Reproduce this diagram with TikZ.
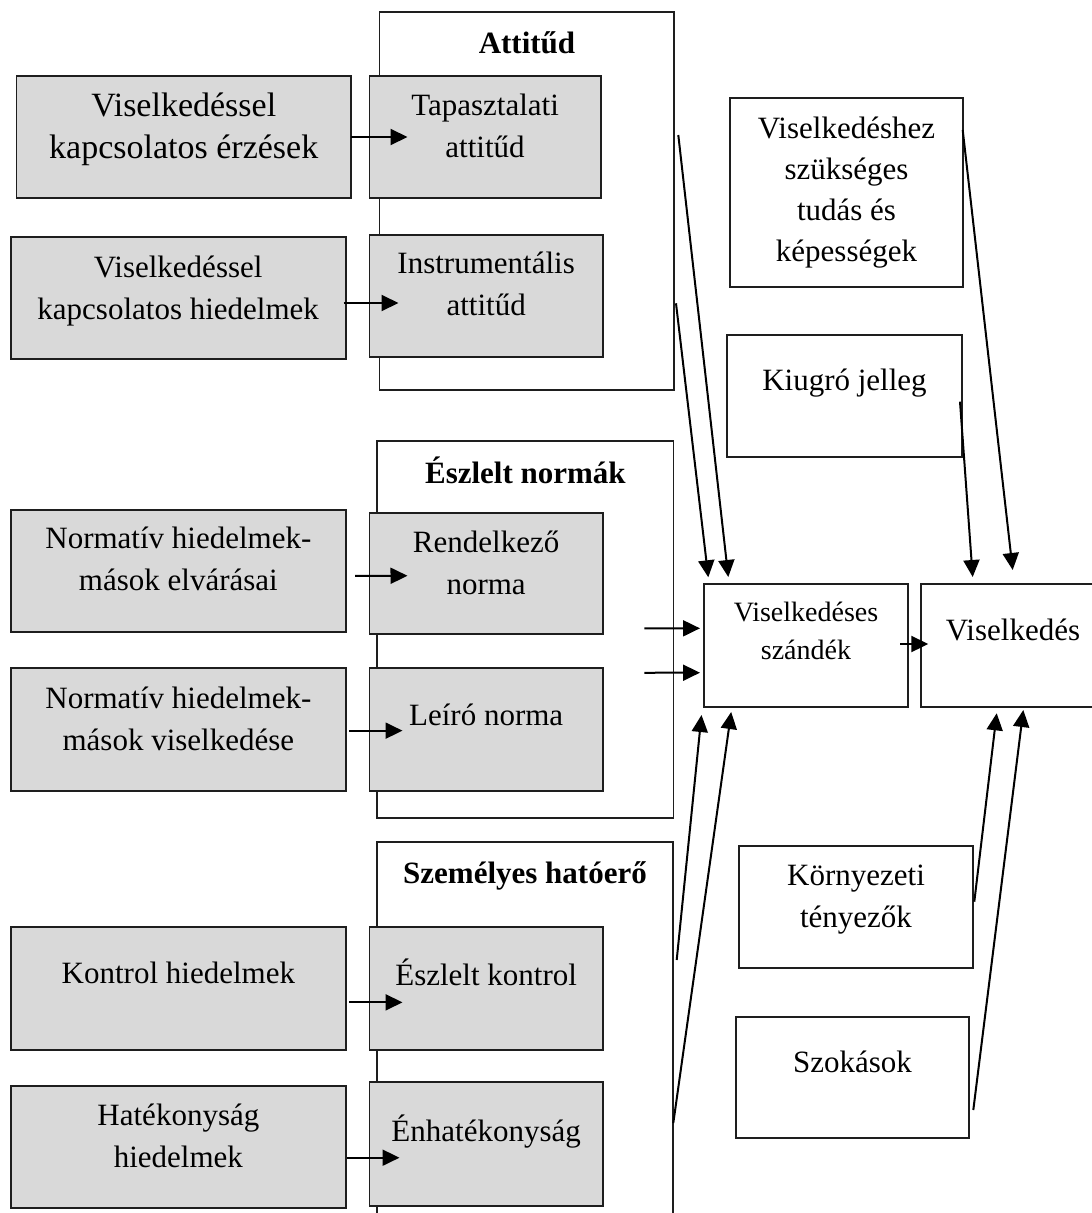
\documentclass[tikz,border=0pt]{standalone}
\usepackage{fontspec}
\setmainfont{Liberation Serif}
\usetikzlibrary{arrows.meta,calc}
\definecolor{boxgray}{RGB}{217,217,217}
\definecolor{edge}{RGB}{30,30,30}
\tikzset{
  frame/.style={draw=edge, line width=1.8pt, inner sep=0pt, outer sep=0pt, anchor=north west},
  shaded/.style={frame, fill=boxgray},
  plain/.style={frame, fill=white},
  txt/.style={font=\fontsize{31}{42}\selectfont, align=center, inner sep=0pt},
  big/.style={font=\fontsize{34}{42}\selectfont, align=center, inner sep=0pt},
  ttl/.style={font=\fontsize{31}{42}\selectfont\bfseries, align=center, inner sep=0pt},
  small/.style={font=\fontsize{28}{38}\selectfont, align=center, inner sep=0pt},
  tight/.style={font=\fontsize{31}{41}\selectfont, align=center, inner sep=0pt},
  arr/.style={line width=2pt, -{Triangle[length=17pt,width=16pt]}},
}
\begin{document}
\begin{tikzpicture}[x=1pt,y=-1pt]
\useasboundingbox[fill=white] (0,0) rectangle (1092,1213);

% group frames
\node[frame, minimum width=294.9pt, minimum height=378.3pt] (att) at (379.4,11.7) {};
\node[frame, minimum width=296.2pt, minimum height=377.3pt] (norm) at (377.3,440.7) {};
\node[frame, minimum width=296pt, minimum height=398.3pt] (hat) at (377,841.7) {};

% grey boxes: beliefs (left) and components (right)
\node[shaded, minimum width=334.5pt, minimum height=122pt] (g1) at (16.5,76) {};
\node[shaded, minimum width=231.1pt, minimum height=122pt] (tap) at (369.5,76) {};
\node[shaded, minimum width=334.8pt, minimum height=122pt] (g2) at (10.8,237) {};
\node[shaded, minimum width=233.3pt, minimum height=122pt] (ins) at (369.5,235) {};
\node[shaded, minimum width=335.2pt, minimum height=122.3pt] (g3) at (10.8,510) {};
\node[shaded, minimum width=233.3pt, minimum height=121.3pt] (ren) at (369.5,512.7) {};
\node[shaded, minimum width=335.2pt, minimum height=123.3pt] (g4) at (10.8,667.7) {};
\node[shaded, minimum width=233.3pt, minimum height=123.3pt] (lei) at (369.5,667.7) {};
\node[shaded, minimum width=335.2pt, minimum height=123.3pt] (g5) at (10.8,926.7) {};
\node[shaded, minimum width=233.3pt, minimum height=123.3pt] (ek) at (369.5,926.7) {};
\node[shaded, minimum width=335.2pt, minimum height=122pt] (g6) at (10.8,1085.7) {};
\node[shaded, minimum width=233.3pt, minimum height=124pt] (en) at (369.5,1081.7) {};

% white boxes on the right
\node[plain, minimum width=233pt, minimum height=189pt] (tud) at (730,98) {};
\node[plain, minimum width=235pt, minimum height=122pt] (kiu) at (727,335) {};
\node[plain, minimum width=204pt, minimum height=123pt] (sz) at (704,584) {};
\node[plain, minimum width=184pt, minimum height=123pt] (vis) at (921,584) {};
\node[plain, minimum width=234pt, minimum height=122pt] (kor) at (739,846) {};
\node[plain, minimum width=233pt, minimum height=121pt] (szo) at (736,1017) {};

% titles
\node[ttl] (attT) at (527,44.6) {\strut Attitűd};
\node[ttl] (normT) at (525.4,474.6) {\strut Észlelt normák};
\node[ttl] (hatT) at (525,874.6) {\strut Személyes hatóerő};

% labels
\node[big] (g1T) at (183.75,128.6) {\strut Viselkedéssel\\\strut kapcsolatos érzések};
\node[txt] (tapT) at (485.05,127.6) {\strut Tapasztalati\\\strut attitűd};
\node[txt] (g2T) at (178.2,289.6) {\strut Viselkedéssel\\\strut kapcsolatos hiedelmek};
\node[txt] (insT) at (486.15,285.6) {\strut Instrumentális\\\strut attitűd};
\node[txt] (g3T) at (178.4,560.6) {\strut Normatív hiedelmek-\\\strut mások elvárásai};
\node[txt] (renT) at (486.15,564.6) {\strut Rendelkező\\\strut norma};
\node[txt] (g4T) at (178.4,720.6) {\strut Normatív hiedelmek-\\\strut mások viselkedése};
\node[txt] (leiT) at (486.15,716.6) {\strut Leíró norma};
\node[txt] (g5T) at (178.4,974.6) {\strut Kontrol hiedelmek};
\node[txt] (ekT) at (486.15,976.6) {\strut Észlelt kontrol};
\node[txt] (g6T) at (178.4,1137.6) {\strut Hatékonyság\\\strut hiedelmek};
\node[txt] (enT) at (486.15,1132.6) {\strut Énhatékonyság};

\node[tight] (tudT) at (846.5,191.8) {\strut Viselkedéshez\\\strut szükséges\\\strut tudás és\\\strut képességek};
\node[txt] (kiuT) at (844.5,381.6) {\strut Kiugró jelleg};
\node[small] (szT) at (806,632.4) {\strut Viselkedéses\\\strut szándék};
\node[txt] (visT) at (1013,631.6) {\strut Viselkedés};
\node[txt] (korT) at (856,897.6) {\strut Környezeti\\\strut tényezők};
\node[txt] (szoT) at (852.5,1063.6) {\strut Szokások};

% beliefs -> components
\draw[arr] (g1.east) -- ($(tap.west)+(38,0)$);
\draw[arr] ($(g2.east)+(-2,5)$) -- ($(ins.west)+(29,7)$);
\draw[arr] ($(g3.east)+(9,4.7)$) -- ($(ren.west)+(38,2.4)$);
\draw[arr] ($(g4.east)+(3,1.3)$) -- ($(lei.west)+(33,1.3)$);
\draw[arr] ($(g5.east)+(3,14)$) -- ($(ek.west)+(33,14)$);
\draw[arr] ($(g6.east)+(1,11)$) -- ($(en.west)+(30,14)$);

% groups -> intention
\draw[arr] ($(att.north east)+(4,123.3)$) -- ($(sz.north west)+(24.3,-7)$);
\draw[arr] ($(att.north east)+(1.7,291.6)$) -- ($(sz.north west)+(4.3,-6.7)$);
\draw[arr] ($(norm.east)+(-29.2,-1)$) -- ($(sz.west)+(-4,-17.2)$);
\draw[arr] ($(norm.east)+(-29.2,43.4)$) -- ($(sz.west)+(-4,27.2)$);
\draw[arr] ($(hat.north east)+(3.7,118.3)$) -- ($(sz.south west)+(-2.5,8)$);
\draw[arr] ($(hat.north east)+(0.3,281.3)$) -- ($(sz.south west)+(27.2,5)$);

% intention -> behaviour
\draw[arr] ($(sz.east)+(-8,-1.5)$) -- ($(vis.west)+(7.3,-1.5)$);

% other factors -> behaviour
\draw[arr] ($(tud.north east)+(-0.3,32)$) -- ($(vis.north west)+(91.7,-14)$);
\draw[arr] ($(kiu.east)+(-2,5.7)$) -- ($(vis.north west)+(51.7,-7)$);
\draw[arr] ($(kor.east)+(1.3,-5.3)$) -- ($(vis.south west)+(75.7,6.3)$);
\draw[arr] ($(szo.east)+(4.3,32.5)$) -- ($(vis.south west)+(102.3,3)$);
\end{tikzpicture}
\end{document}
